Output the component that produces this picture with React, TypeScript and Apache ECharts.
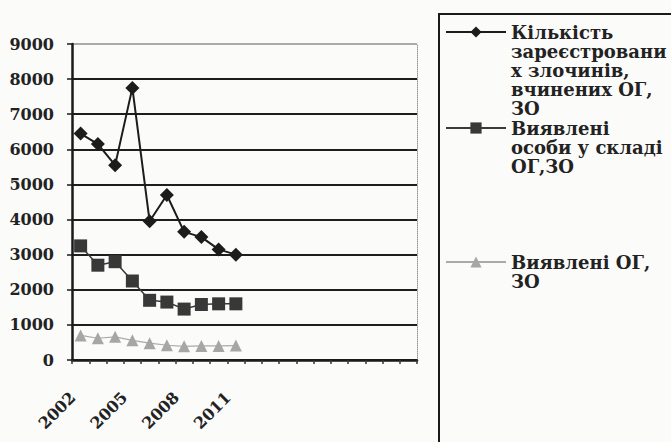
import React, { useEffect, useRef } from "react";
import * as echarts from "echarts";

const years = [
  "2002", "2003", "2004", "2005", "2006", "2007", "2008", "2009", "2010", "2011",
  "2012", "2013", "2014", "2015", "2016", "2017", "2018", "2019", "2020", "2021",
];
const shownYearLabels = ["2002", "2005", "2008", "2011"];

const crimes = [6450, 6150, 5550, 7750, 3950, 4700, 3650, 3500, 3150, 3000];
const persons = [3250, 2700, 2800, 2250, 1700, 1650, 1450, 1580, 1600, 1600];
const groups = [700, 620, 660, 560, 480, 420, 390, 400, 400, 410];

const seriesNames = [
  "Кількість зареєстрованих злочинів, вчинених ОГ, ЗО",
  "Виявлені особи у складі ОГ,ЗО",
  "Виявлені ОГ, ЗО",
];
const legendLines = [
  ["Кількість", "зареєстровани", "х злочинів,", "вчинених ОГ,", "ЗО"],
  ["Виявлені", "особи у складі", "ОГ,ЗО"],
  ["Виявлені ОГ,", "ЗО"],
];

const yTicks = [0, 1000, 2000, 3000, 4000, 5000, 6000, 7000, 8000, 9000];

const FONT = "DejaVu Serif";
const LH = 19;

export default function App() {
  const ref = useRef<HTMLDivElement>(null);
  useEffect(() => {
    if (!ref.current) return;
    const chart = echarts.init(ref.current, null, { renderer: "svg" });
    const iconY = [32, 128, 262];
    const legends = legendLines.map((lines, i) => {
      const n = lines.length;
      const blank = new Array(n - 1).fill(" ");
      return {
        data: [seriesNames[i]],
        left: 445,
        top: iconY[i] - ((2 * n - 1) * LH) / 2,
        orient: "vertical",
        padding: 0,
        itemWidth: 60,
        itemHeight: 14,
        itemGap: 0,
        selectedMode: false,
        formatter: () => blank.concat(lines).join("\n"),
        textStyle: {
          fontFamily: FONT,
          fontWeight: "bold",
          fontSize: 18,
          color: "#222",
          lineHeight: LH,
        },
      };
    });
    const splitColors = yTicks.map((v, i) => (i === yTicks.length - 1 ? "#aaa" : "#1e1e1e"));
    chart.setOption({
      animation: false,
      backgroundColor: "#fbfbfa",
      grid: { left: 72, top: 44, width: 345, height: 316, containLabel: false },
      legend: legends,
      graphic: [
        {
          type: "rect",
          shape: { x: 439, y: 14, width: 300, height: 500 },
          style: { fill: "none", stroke: "#1a1a1a", lineWidth: 2 },
          silent: true,
        },
      ],
      xAxis: {
        type: "category",
        data: years,
        boundaryGap: true,
        axisLine: { lineStyle: { color: "#1a1a1a", width: 2.5 } },
        axisTick: { show: true, interval: 0, length: 4, lineStyle: { color: "#333", width: 1.5 } },
        axisLabel: {
          interval: 0,
          rotate: 45,
          margin: 27,
          padding: [0, 11, 0, 0],
          fontFamily: FONT,
          fontWeight: "bold",
          fontSize: 16,
          color: "#222",
          formatter: (v: string) => (shownYearLabels.includes(v) ? v : ""),
        },
        splitLine: { show: false },
      },
      yAxis: [
        {
          type: "value",
          min: 0,
          max: 9000,
          interval: 1000,
          axisLine: { show: true, lineStyle: { color: "#1a1a1a", width: 2.5 } },
          axisTick: { show: true, length: 5, lineStyle: { color: "#1a1a1a", width: 1.5 } },
          axisLabel: {
            margin: 18,
            fontFamily: FONT,
            fontWeight: "bold",
            fontSize: 16,
            color: "#222",
            formatter: (v: number) => String(v),
          },
          splitLine: { show: true, lineStyle: { color: splitColors, width: 2 } },
        },
        {
          type: "value",
          min: 0,
          max: 9000,
          interval: 1000,
          position: "right",
          axisLine: { show: true, lineStyle: { color: "#999", width: 1, type: "dotted" } },
          axisTick: { show: false },
          axisLabel: { show: false },
          splitLine: { show: false },
        },
      ],
      series: [
        {
          name: seriesNames[0],
          type: "line",
          data: crimes,
          symbol: "diamond",
          symbolSize: 14,
          itemStyle: { color: "#1c1c1c" },
          lineStyle: { color: "#1c1c1c", width: 2 },
        },
        {
          name: seriesNames[1],
          type: "line",
          data: persons,
          symbol: "rect",
          symbolSize: 13,
          itemStyle: { color: "#383838" },
          lineStyle: { color: "#3a3a3a", width: 1.5 },
        },
        {
          name: seriesNames[2],
          type: "line",
          data: groups,
          symbol: "triangle",
          symbolSize: 12,
          itemStyle: { color: "#a6a6a6" },
          lineStyle: { color: "#aaa", width: 1.2 },
        },
      ],
    });
    return () => chart.dispose();
  }, []);
  return (
    <div
      ref={ref}
      style={{ position: "fixed", left: 0, top: 0, width: 671, height: 442 }}
    />
  );
}
